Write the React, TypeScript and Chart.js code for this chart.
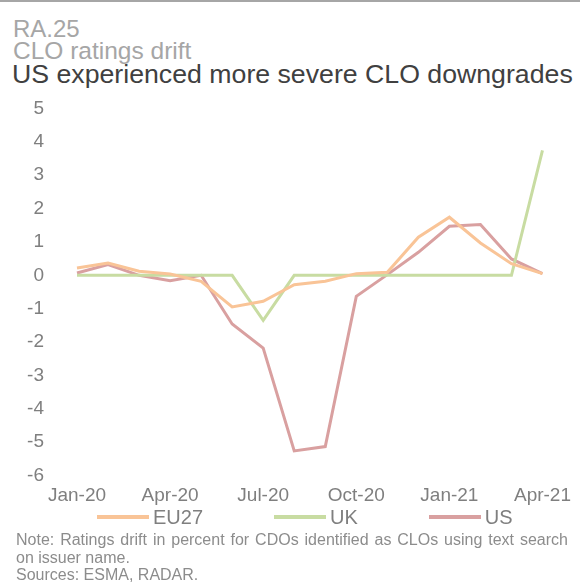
import { useEffect, useRef } from "react";
import { Chart, registerables } from "chart.js";

Chart.register(...registerables);

const months = [
  "Jan-20", "Feb-20", "Mar-20", "Apr-20", "May-20", "Jun-20", "Jul-20", "Aug-20",
  "Sep-20", "Oct-20", "Nov-20", "Dec-20", "Jan-21", "Feb-21", "Mar-21", "Apr-21",
];
const tickLabels = ["Jan-20", "Apr-20", "Jul-20", "Oct-20", "Jan-21", "Apr-21"];
const eu27 = [0.22, 0.37, 0.12, 0.04, -0.18, -0.95, -0.78, -0.28, -0.18, 0.05, 0.09, 1.14, 1.74, 0.97, 0.35, 0.05];
const uk = [0, 0, 0, 0, 0, 0, -1.35, 0, 0, 0, 0, 0, 0, 0, 0, 3.74];
const us = [0.07, 0.32, 0, -0.16, 0, -1.46, -2.18, -5.26, -5.13, -0.63, 0.02, 0.69, 1.47, 1.52, 0.49, 0.05];
const seriesNames = ["EU27", "UK", "US"];
const seriesColors = ["#F9C497", "#C8DCA2", "#D9A0A0"];

const FONT = "'Liberation Sans', Arial, sans-serif";

export default function App() {
  const canvasRef = useRef<HTMLCanvasElement | null>(null);

  useEffect(() => {
    if (!canvasRef.current) return;
    const values = [eu27, uk, us];
    const chart = new Chart(canvasRef.current, {
      type: "line",
      data: {
        labels: months,
        datasets: seriesNames.map((name, i) => ({
          label: name,
          data: values[i],
          borderColor: seriesColors[i],
          backgroundColor: seriesColors[i],
          borderWidth: 3,
          pointRadius: 0,
          tension: 0,
          fill: false,
        })),
      },
      options: {
        responsive: false,
        animation: false,
        events: [],
        layout: { padding: { left: 0, right: 37, top: 13, bottom: 0 } },
        scales: {
          x: {
            grid: { display: false, drawTicks: false },
            border: { display: false },
            ticks: {
              autoSkip: false,
              maxRotation: 0,
              padding: 9,
              color: "#7f7f7f",
              font: { family: FONT, size: 19 },
              callback: (_v: any, i: number) => (tickLabels.includes(months[i]) ? months[i] : ""),
            },
            afterFit: (s: any) => {
              s.height = 32;
            },
          },
          y: {
            min: -6,
            max: 5,
            grid: { display: false, drawTicks: false },
            border: { display: false },
            ticks: {
              stepSize: 1,
              padding: 33,
              color: "#7f7f7f",
              font: { family: FONT, size: 19 },
            },
            afterFit: (s: any) => {
              s.width = 77;
            },
          },
        },
        plugins: {
          tooltip: { enabled: false },
          legend: { display: false },
        },
      },
    });
    return () => chart.destroy();
  }, []);

  return (
    <div
      style={{
        position: "absolute",
        left: 0,
        top: 0,
        width: 580,
        height: 583,
        overflow: "hidden",
        background: "#fff",
        fontFamily: FONT,
      }}
    >
      <div style={{ position: "absolute", left: 0, top: 0, width: 580, height: 2, background: "#a6a6a6" }} />
      <div style={{ position: "absolute", left: 13, top: 15, fontSize: 24, lineHeight: "28px", color: "#a6a6a6", whiteSpace: "nowrap" }}>
        RA.25
      </div>
      <div style={{ position: "absolute", left: 13, top: 37, fontSize: 24.5, lineHeight: "28px", color: "#a6a6a6", whiteSpace: "nowrap" }}>
        CLO ratings drift
      </div>
      <div style={{ position: "absolute", left: 12, top: 59, fontSize: 26.7, lineHeight: "30px", color: "#404040", whiteSpace: "nowrap" }}>
        US experienced more severe CLO downgrades
      </div>
      <div style={{ position: "absolute", left: 0, top: 64, width: 580, height: 456 }}>
        <canvas ref={canvasRef} width={580} height={456} style={{ width: 580, height: 456, display: "block" }} />
      </div>
      <div
        style={{
          position: "absolute",
          left: 97,
          top: 505,
          display: "flex",
          alignItems: "center",
          gap: 71,
          height: 24,
        }}
      >
        {seriesNames.map((name, i) => (
          <div key={name} style={{ display: "flex", alignItems: "center" }}>
            <div style={{ width: 52, height: 4, background: seriesColors[i], marginRight: 4 }} />
            <span style={{ fontSize: 20, lineHeight: "24px", color: "#7f7f7f" }}>{name}</span>
          </div>
        ))}
      </div>
      <div
        style={{
          position: "absolute",
          left: 16,
          top: 531,
          width: 552,
          fontSize: 16,
          lineHeight: "17.5px",
          color: "#8c8c8c",
        }}
      >
        <div style={{ textAlign: "justify", textAlignLast: "justify" as any }}>
          Note: Ratings drift in percent for CDOs identified as CLOs using text search
        </div>
        <div>on issuer name.</div>
        <div>Sources: ESMA, RADAR.</div>
      </div>
    </div>
  );
}
